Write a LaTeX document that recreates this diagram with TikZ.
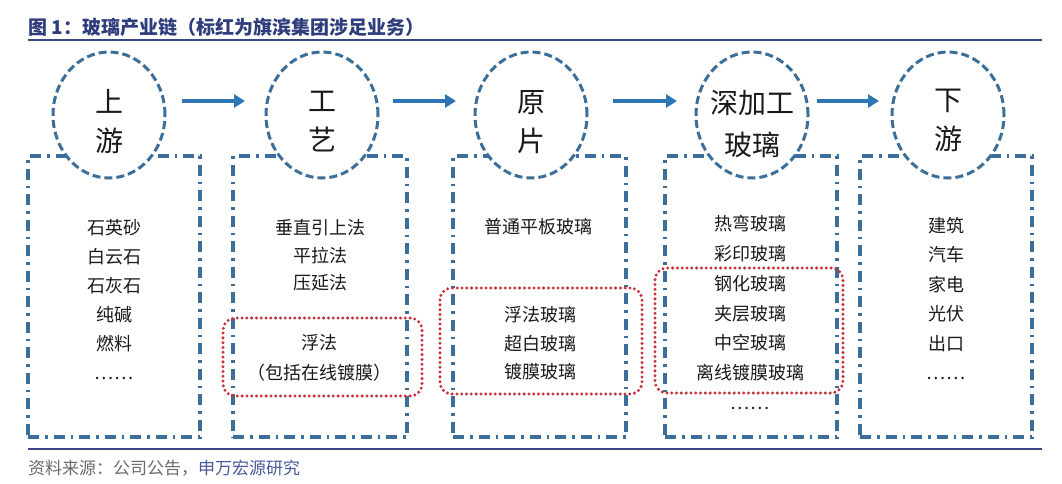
\documentclass[tikz,border=0pt]{standalone}
\usepackage{fontspec}
\setmainfont{Noto Sans CJK SC}
\usetikzlibrary{arrows.meta,shapes.geometric}
\definecolor{navy}{HTML}{2F3D7C}
\definecolor{ruleblue}{HTML}{3B4785}
\definecolor{boxblue}{HTML}{3C6E9A}
\definecolor{arrblue}{HTML}{2E75B6}
\definecolor{redline}{HTML}{C8313A}
\definecolor{txt}{HTML}{1A1A1A}
\definecolor{srcgray}{HTML}{6B6B6B}
\definecolor{srcblue}{HTML}{4A5A9A}
\begin{document}
\begin{tikzpicture}[x=1pt,y=-1pt,
  stagebox/.style={draw=boxblue, line width=3.2pt, dash pattern=on 11pt off 6pt on 2.5pt off 6pt, inner sep=0pt, minimum height=281pt},
  stagecirc/.style={ellipse, draw=boxblue, fill=white, line width=3pt, dash pattern=on 8pt off 4pt, inner sep=0pt, minimum width=112pt, minimum height=126pt},
  redbox/.style={draw=redline, line width=3.3pt, dash pattern=on 0pt off 4.8pt, line cap=round, rounded corners=12pt, inner sep=0pt},
  flowarr/.style={draw=arrblue, line width=4pt, -{Triangle[length=11pt,width=13pt]}},
  circtxt/.style={text=txt, align=center, font=\fontsize{28}{39}\selectfont},
  listtxt/.style={text=txt, align=center, font=\fontsize{18}{29}\selectfont}
]
\useasboundingbox (0,0) rectangle (1062,484);
\fill[white] (0,0) rectangle (1062,484);

% title and rules
\node[anchor=west, text=navy, inner sep=0pt, font=\fontsize{19}{22}\selectfont\bfseries] (title) at (28,27) {图\ 1：玻璃产业链（标红为旗滨集团涉足业务）};
\draw[ruleblue, line width=2pt] (28,40) -- (1042,40);
\draw[ruleblue, line width=2pt] (28,449) -- (1042,449);
\node[anchor=west, inner sep=0pt, font=\fontsize{17}{20}\selectfont] (source) at (28,468) {\textcolor{srcgray}{资料来源：公司公告，}\textcolor{srcblue}{申万宏源研究}};

% dash-dot stage boxes
\node[stagebox, minimum width=172pt] (b1) at (114,296.5) {};
\node[stagebox, minimum width=174pt] (b2) at (320,296.5) {};
\node[stagebox, minimum width=173pt] (b3) at (539.5,296.5) {};
\node[stagebox, minimum width=172pt] (b4) at (751,296.5) {};
\node[stagebox, minimum width=172pt] (b5) at (946,296.5) {};

% red highlight boxes
\node[redbox, minimum width=199pt, minimum height=78pt] (r1) at (322.5,357) {};
\node[redbox, minimum width=202pt, minimum height=106pt] (r2) at (541,341) {};
\node[redbox, minimum width=188pt, minimum height=125pt] (r3) at (749,330.5) {};

% stage circles
\node[stagecirc] (c1) at (109,115) {};
\node[stagecirc] (c2) at (322,115) {};
\node[stagecirc] (c3) at (531,115) {};
\node[stagecirc] (c4) at (752,115) {};
\node[stagecirc] (c5) at (948,115) {};

\node[circtxt] (t1) at (109,122) {上\\游};
\node[circtxt] (t2) at (322,122) {工\\艺};
\node[circtxt] (t3) at (531,122) {原\\片};
\node[circtxt, font=\fontsize{28}{42}\selectfont] (t4) at (752,124) {深加工\\玻璃};
\node[circtxt] (t5) at (948,120) {下\\游};

% arrows
\coordinate (a1s) at (182,101); \coordinate (a1e) at (245,101);
\coordinate (a2s) at (393,101); \coordinate (a2e) at (456,101);
\coordinate (a3s) at (613,101); \coordinate (a3e) at (677,101);
\coordinate (a4s) at (817,101); \coordinate (a4e) at (879,101);
\draw[flowarr] (a1s) -- (a1e);
\draw[flowarr] (a2s) -- (a2e);
\draw[flowarr] (a3s) -- (a3e);
\draw[flowarr] (a4s) -- (a4e);

% lists
\node[listtxt] (l1) at (114,299.5) {石英砂\\白云石\\石灰石\\纯碱\\燃料\\……};
\node[listtxt, font=\fontsize{18}{27.5}\selectfont] (l2) at (320,255.5) {垂直引上法\\平拉法\\压延法};
\node[listtxt, font=\fontsize{18}{30}\selectfont] (l2r) at (319,358) {浮法\\（包括在线镀膜）};
\node[listtxt] (l3) at (538,227) {普通平板玻璃};
\node[listtxt, font=\fontsize{18}{28.5}\selectfont] (l3r) at (540,343.5) {浮法玻璃\\超白玻璃\\镀膜玻璃};
\node[listtxt, font=\fontsize{18}{29.8}\selectfont] (l4) at (750,312.5) {热弯玻璃\\彩印玻璃\\钢化玻璃\\夹层玻璃\\中空玻璃\\离线镀膜玻璃\\……};
\node[listtxt, font=\fontsize{18}{29.4}\selectfont] (l5) at (946,298.5) {建筑\\汽车\\家电\\光伏\\出口\\……};
\end{tikzpicture}
\end{document}
